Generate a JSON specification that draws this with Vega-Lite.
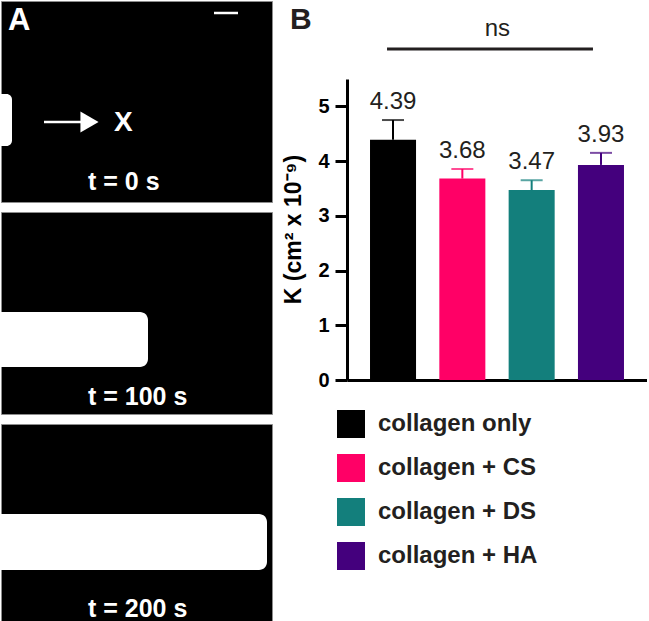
{
  "$schema": "https://vega.github.io/schema/vega-lite/v6.json",
  "padding": 0,
  "background": "white",
  "config": {"font": "Liberation Sans", "view": {"stroke": null}},
  "spacing": 9,
  "resolve": {"scale": {"x": "independent", "y": "independent", "color": "independent"}, "legend": {"color": "independent"}},
  "hconcat": [
    {
      "spacing": 8,
      "resolve": {"scale": {"x": "independent", "y": "independent"}},
      "vconcat": [
        {
          "width": 271, "height": 201,
          "view": {"fill": "black", "stroke": "#8c8c8c", "strokeWidth": 1},
          "layer": [
            {
              "data": {"values": [{"x0": 0, "x1": 11, "y0": 93, "y1": 145}]},
              "mark": {"type": "rect", "color": "white", "cornerRadiusTopRight": 10, "cornerRadiusBottomRight": 10},
              "encoding": {
                "x": {"field": "x0", "type": "quantitative", "scale": {"domain": [0, 271], "nice": false, "zero": false}, "axis": null},
                "x2": {"field": "x1"},
                "y": {"field": "y0", "type": "quantitative", "scale": {"domain": [0, 201], "reverse": true, "nice": false, "zero": false}, "axis": null},
                "y2": {"field": "y1"}
              }
            },
            {
              "data": {"values": [{"x0": 43, "x1": 82, "y": 121}, {"x0": 213, "x1": 237, "y": 12}]},
              "mark": {"type": "rule", "color": "white", "strokeWidth": 2.5},
              "encoding": {
                "x": {"field": "x0", "type": "quantitative"},
                "x2": {"field": "x1"},
                "y": {"field": "y", "type": "quantitative"}
              }
            },
            {
              "data": {"values": [{"x": 88.5, "y": 121}]},
              "mark": {"type": "point", "shape": "triangle-right", "filled": true, "color": "white", "opacity": 1, "size": 441},
              "encoding": {
                "x": {"field": "x", "type": "quantitative"},
                "y": {"field": "y", "type": "quantitative"}
              }
            },
            {
              "data": {"values": [{"label": "X", "x": 113, "y": 130}]},
              "mark": {"type": "text", "color": "white", "fontSize": 28, "fontWeight": "bold", "align": "left", "baseline": "alphabetic"},
              "encoding": {
                "x": {"field": "x", "type": "quantitative"},
                "y": {"field": "y", "type": "quantitative"},
                "text": {"field": "label"}
              }
            },
            {
              "data": {"values": [{"label": "A", "x": 7, "y": 29}]},
              "mark": {"type": "text", "color": "white", "fontSize": 31, "fontWeight": "bold", "align": "left", "baseline": "alphabetic"},
              "encoding": {
                "x": {"field": "x", "type": "quantitative"},
                "y": {"field": "y", "type": "quantitative"},
                "text": {"field": "label"}
              }
            },
            {
              "data": {"values": [{"label": "t = 0 s", "x": 87, "y": 189}]},
              "mark": {"type": "text", "color": "white", "fontSize": 25, "fontWeight": "bold", "align": "left", "baseline": "alphabetic"},
              "encoding": {
                "x": {"field": "x", "type": "quantitative"},
                "y": {"field": "y", "type": "quantitative"},
                "text": {"field": "label"}
              }
            }
          ]
        },
        {
          "width": 271, "height": 202,
          "view": {"fill": "black", "stroke": "#8c8c8c", "strokeWidth": 1},
          "layer": [
            {
              "data": {"values": [{"x0": 0, "x1": 147, "y0": 100, "y1": 155}]},
              "mark": {"type": "rect", "color": "white", "cornerRadiusTopRight": 8, "cornerRadiusBottomRight": 8},
              "encoding": {
                "x": {"field": "x0", "type": "quantitative", "scale": {"domain": [0, 271], "nice": false, "zero": false}, "axis": null},
                "x2": {"field": "x1"},
                "y": {"field": "y0", "type": "quantitative", "scale": {"domain": [0, 202], "reverse": true, "nice": false, "zero": false}, "axis": null},
                "y2": {"field": "y1"}
              }
            },
            {
              "data": {"values": [{"label": "t = 100 s", "x": 87, "y": 193}]},
              "mark": {"type": "text", "color": "white", "fontSize": 25, "fontWeight": "bold", "align": "left", "baseline": "alphabetic"},
              "encoding": {
                "x": {"field": "x", "type": "quantitative"},
                "y": {"field": "y", "type": "quantitative"},
                "text": {"field": "label"}
              }
            }
          ]
        },
        {
          "width": 271, "height": 202,
          "view": {"fill": "black", "stroke": "#8c8c8c", "strokeWidth": 1},
          "layer": [
            {
              "data": {"values": [{"x0": 0, "x1": 266, "y0": 90, "y1": 146}]},
              "mark": {"type": "rect", "color": "white", "cornerRadiusTopRight": 8, "cornerRadiusBottomRight": 8},
              "encoding": {
                "x": {"field": "x0", "type": "quantitative", "scale": {"domain": [0, 271], "nice": false, "zero": false}, "axis": null},
                "x2": {"field": "x1"},
                "y": {"field": "y0", "type": "quantitative", "scale": {"domain": [0, 202], "reverse": true, "nice": false, "zero": false}, "axis": null},
                "y2": {"field": "y1"}
              }
            },
            {
              "data": {"values": [{"label": "t = 200 s", "x": 87, "y": 193}]},
              "mark": {"type": "text", "color": "white", "fontSize": 25, "fontWeight": "bold", "align": "left", "baseline": "alphabetic"},
              "encoding": {
                "x": {"field": "x", "type": "quantitative"},
                "y": {"field": "y", "type": "quantitative"},
                "text": {"field": "label"}
              }
            }
          ]
        }
      ]
    },
    {
      "width": 300, "height": 379,
      "layer": [
        {
          "data": {"values": [
            {"group": "collagen only", "K": 4.39, "upper": 4.75},
            {"group": "collagen + CS", "K": 3.68, "upper": 3.855},
            {"group": "collagen + DS", "K": 3.47, "upper": 3.65},
            {"group": "collagen + HA", "K": 3.93, "upper": 4.15}
          ]},
          "layer": [
            {
              "mark": {"type": "bar"},
              "encoding": {
                "x": {"field": "group", "type": "nominal", "sort": null,
                  "scale": {"domain": ["collagen only", "collagen + CS", "collagen + DS", "collagen + HA"], "paddingInner": 0.336, "paddingOuter": 0.332},
                  "axis": {"labels": false, "ticks": false, "title": null, "domainColor": "black", "domainWidth": 3, "grid": false}},
                "y": {"field": "K", "type": "quantitative",
                  "scale": {"domain": [0, 6.925], "nice": false},
                  "axis": {"values": [0, 1, 2, 3, 4, 5], "format": "d", "grid": false, "domainColor": "black", "domainWidth": 3, "domainDash": [301, 500], "tickColor": "black", "tickWidth": 3, "tickSize": 12, "labelFontSize": 20, "labelFontWeight": "bold", "labelColor": "black", "labelPadding": 6, "title": "K (cm² x 10⁻⁹)", "titleFontSize": 23, "titleFontWeight": "bold", "titleColor": "black", "titlePadding": 12, "titleY": 228}},
                "color": {"field": "group", "type": "nominal",
                  "scale": {"domain": ["collagen only", "collagen + CS", "collagen + DS", "collagen + HA"], "range": ["#000000", "#ff0066", "#137f7c", "#44007d"]},
                  "legend": {"orient": "none", "legendX": -10, "legendY": 409, "title": null, "symbolType": "square", "symbolSize": 784, "symbolStrokeWidth": 0, "symbolOpacity": 1, "labelFontSize": 24, "labelFontWeight": "bold", "labelColor": "#231f20", "labelOffset": 13, "rowPadding": 16, "padding": 0, "labelLimit": 300}}
              }
            },
            {
              "mark": {"type": "rule", "strokeWidth": 2},
              "encoding": {
                "x": {"field": "group", "type": "nominal", "sort": null},
                "y": {"field": "K", "type": "quantitative"},
                "y2": {"field": "upper"},
                "color": {"field": "group", "type": "nominal", "legend": null}
              }
            },
            {
              "mark": {"type": "tick", "size": 22, "thickness": 2, "orient": "horizontal"},
              "encoding": {
                "x": {"field": "group", "type": "nominal", "sort": null},
                "y": {"field": "upper", "type": "quantitative"},
                "color": {"field": "group", "type": "nominal", "legend": null}
              }
            },
            {
              "mark": {"type": "text", "fontSize": 24, "color": "#231f20", "baseline": "alphabetic", "dy": -11},
              "encoding": {
                "x": {"field": "group", "type": "nominal", "sort": null},
                "y": {"field": "upper", "type": "quantitative"},
                "text": {"field": "K", "type": "quantitative", "format": ".2f"}
              }
            }
          ]
        },
        {
          "data": {"values": [{"from": "collagen only", "to": "collagen + HA", "y": 6.05}]},
          "mark": {"type": "rule", "strokeWidth": 3, "color": "#231f20", "xOffset": -6, "x2Offset": -8},
          "encoding": {
            "x": {"field": "from", "type": "nominal"},
            "x2": {"field": "to"},
            "y": {"field": "y", "type": "quantitative"}
          }
        },
        {
          "data": {"values": [{"label": "ns", "at": "collagen + CS", "y": 6.29}]},
          "mark": {"type": "text", "fontSize": 24, "color": "#231f20", "baseline": "alphabetic", "dx": 35},
          "encoding": {
            "x": {"field": "at", "type": "nominal"},
            "y": {"field": "y", "type": "quantitative"},
            "text": {"field": "label"}
          }
        },
        {
          "data": {"values": [{"label": "B", "at": "collagen only", "y": 6.41}]},
          "mark": {"type": "text", "fontSize": 30, "fontWeight": "bold", "color": "#231f20", "align": "left", "baseline": "alphabetic", "dx": -103},
          "encoding": {
            "x": {"field": "at", "type": "nominal"},
            "y": {"field": "y", "type": "quantitative"},
            "text": {"field": "label"}
          }
        }
      ]
    }
  ]
}
